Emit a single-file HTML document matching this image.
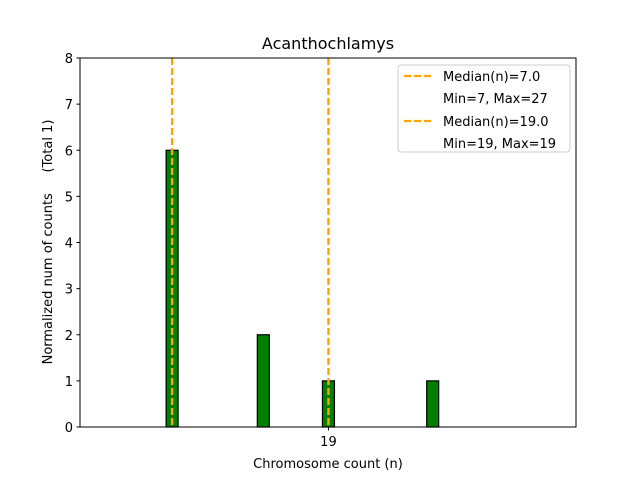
<!DOCTYPE html>
<html><head><meta charset="utf-8"><style>
body{margin:0;background:#fff}
svg text{font-family:"DejaVu Sans","Liberation Sans",sans-serif;fill:#000;white-space:pre}
</style></head><body>
<svg id="chart" width="640" height="480" viewBox="0 0 640 480" xmlns="http://www.w3.org/2000/svg">
<rect x="0" y="0" width="640" height="480" fill="#fff"/>
<text x="328" y="49" style="font-size:16px" text-anchor="middle">Acanthochlamys</text>
<g id="plot"></g>
<text x="328" y="468" style="font-size:13px" text-anchor="middle">Chromosome count (n)</text>
<text transform="translate(52,242) rotate(-90)" style="font-size:13px" text-anchor="middle" xml:space="preserve">Normalized num of counts     (Total 1)</text>
<g>
<rect x="398" y="65" width="172" height="87" fill="#fff" stroke="#ccc" rx="3"/>
<line x1="404" y1="76" x2="432" y2="76" stroke="orange" style="stroke-width:2.2px" stroke-dasharray="7,3"/>
<text x="443" y="81" style="font-size:13px">Median(n)=7.0</text>
<text x="443" y="103" style="font-size:13px">Min=7, Max=27</text>
<line x1="404" y1="121" x2="432" y2="121" stroke="orange" style="stroke-width:2.2px" stroke-dasharray="7,3"/>
<text x="443" y="126" style="font-size:13px">Median(n)=19.0</text>
<text x="443" y="148" style="font-size:13px">Min=19, Max=19</text>
</g>
</svg>
<script>
const binCenters = [7, 14, 19, 27];
const binCounts = [6, 2, 1, 1];
const medians = [7, 19];
const xTicks = [19];
const yTicks = [0,1,2,3,4,5,6,7,8];

const L=80,R=576,T=58,B=427;
const xMin=-0.07,xMax=38.0,yMin=0,yMax=8;
const xs=v=>L+(v-xMin)/(xMax-xMin)*(R-L);
const ys=v=>B-(v-yMin)/(yMax-yMin)*(B-T);
const NS="http://www.w3.org/2000/svg";
const g=document.getElementById('plot');
function mk(t,a,st){const e=document.createElementNS(NS,t);for(const k in a)e.setAttribute(k,a[k]);if(st)e.setAttribute('style',st);g.appendChild(e);return e;}

const bw=0.92;
binCenters.forEach((c,i)=>{
  const x0=xs(c-bw/2),x1=xs(c+bw/2);
  const r=mk('rect',{x:x0,y:ys(binCounts[i]),width:x1-x0,height:ys(0)-ys(binCounts[i]),fill:'green',stroke:'#000'},'stroke-width:1.2px');
  
  
});
const base=mk('line',{x1:L,y1:B,x2:xs(30.5),y2:B,stroke:'#000'},'stroke-width:1px');


medians.forEach(m=>{
  const l=mk('line',{x1:xs(m),y1:T,x2:xs(m),y2:B,stroke:'orange','stroke-dasharray':'7,3'},'stroke-width:2.4px');
  
  
});
const frame=mk('rect',{x:L,y:T,width:R-L,height:B-T,fill:'none',stroke:'#000'},'stroke-width:1px');


yTicks.forEach(v=>{
  const t=mk('line',{x1:L-3.5,y1:ys(v),x2:L,y2:ys(v),stroke:'#000'});
  
  
  const tx=mk('text',{x:L-7,y:ys(v)+5,'text-anchor':'end'},'font-size:13px');
  tx.textContent=v;
  
  
});
xTicks.forEach(v=>{
  const t=mk('line',{x1:xs(v),y1:B,x2:xs(v),y2:B+3.5,stroke:'#000'});
  
  
  const tx=mk('text',{x:xs(v),y:B+19,'text-anchor':'middle'},'font-size:13px');
  tx.textContent=v;
  
  
});
</script>
</body></html>
